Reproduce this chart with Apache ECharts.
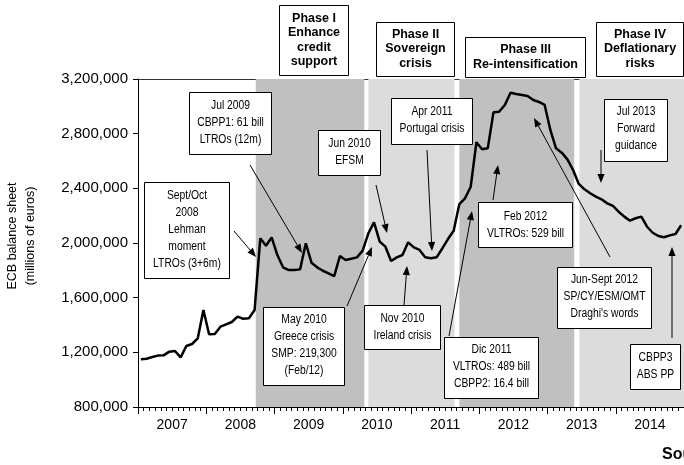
<!DOCTYPE html>
<html><head><meta charset="utf-8">
<script src="https://cdn.jsdelivr.net/npm/echarts@6/dist/echarts.min.js"></script>
<style>html,body{margin:0;padding:0;background:#fff}#c{width:684px;height:465px}</style>
</head><body><div id="c"></div>
<script>
// ---- data ----
const years = ['2007','2008','2009','2010','2011','2012','2013','2014'];
// ECB balance sheet, millions of euros, monthly from Jan 2007
const ecbBalance = [
  1149000,1153000,1166000,1176000,1178000,1205000,1210000,1163000,1246000,1261000,1302000,1510000,
  1332000,1334000,1388000,1405000,1422000,1461000,1446000,1449000,1510000,2034000,1980000,2041000,
  1912000,1822000,1802000,1802000,1807000,1998000,1856000,1822000,1797000,1778000,1758000,1905000,
  1876000,1885000,1895000,1944000,2071000,2151000,2010000,1973000,1868000,1895000,1912000,2005000,
  1968000,1949000,1895000,1888000,1895000,1960000,2029000,2090000,2285000,2327000,2412000,2737000,
  2686000,2693000,2956000,2961000,3010000,3100000,3090000,3083000,3076000,3046000,3032000,3010000,
  2827000,2693000,2661000,2612000,2534000,2432000,2393000,2364000,2339000,2320000,2290000,2271000,
  2229000,2193000,2163000,2181000,2193000,2119000,2075000,2051000,2042000,2056000,2066000,2130000
];
const yTicks = [800000,1200000,1600000,2000000,2400000,2800000,3200000];
// phases (month index from Jan 2007)
const phaseStart = [20.7, 40.5, 56.5, 77.6];
const phaseEnd   = [39.8, 55.65, 76.7, 96];
const phaseShade = ['#c0c0c0','#dcdcdc','#c0c0c0','#dcdcdc'];
const phaseTitles = [
  ['Phase I','Enhance','credit','support'],
  ['Phase II','Sovereign','crisis'],
  ['Phase III','Re-intensification'],
  ['Phase IV','Deflationary','risks']
];
const notes = [
  ['Jul 2009','CBPP1: 61 bill','LTROs (12m)'],
  ['Sept/Oct','2008','Lehman','moment','LTROs (3+6m)'],
  ['Jun 2010','EFSM'],
  ['Apr 2011','Portugal crisis'],
  ['Feb 2012','VLTROs: 529 bill'],
  ['Jun-Sept 2012','SP/CY/ESM/OMT',"Draghi's words"],
  ['Jul 2013','Forward','guidance'],
  ['CBPP3','ABS PP'],
  ['Nov 2010','Ireland crisis'],
  ['Dic 2011','VLTROs: 489 bill','CBPP2: 16.4 bill'],
  ['May 2010','Greece crisis','SMP: 219,300','(Feb/12)']
];
const yTitle = ['ECB balance sheet','(millions of euros)'];
const sourceText = 'Source: ECB';

// ---- layout (pixels) ----
const phaseBoxes = [[279,5,69,70,40],[376,22,78,54,49],[465,37,120,40,57],[596,22,87,54,49]];
const noteBoxes = [
  [189,92,82,62,123],[144,182,85,96,229.5],[318,130,62,45,152.5],[391,98,81,46,120],
  [478,202,94,45,225],[557,267,94,61,297],[604,99,63,62,129],[630,344,50,45,366],
  [364,305,76,44,327],[444,337,94,61,367],[263,307,81,78,345.5]
];
const arrows = [
  [250,165,302,253],[234,231,256,257],[376,185,387,233],[427,150,432,251],
  [493,200,498,165],[610,257,534,118],[601,150,601,183],[672,338,672,247],
  [404,305,407,266],[449,336,472,211],[347,306,372,247]
];

const SANS = "'Liberation Sans',Arial,sans-serif";

function box(b, lines, opts){
  const [x,y,w,h,cy] = b;
  return [
    {type:'rect', z:100, shape:{x:x+0.5,y:y+0.5,width:w,height:h}, style:{fill:'#fff',stroke:'#000',lineWidth:1}},
    {type:'text', z:101, x:x+w/2+0.5, y:cy, scaleX:opts.sx, scaleY:1,
      style:{text:lines.join('\n'), x:0, y:0, align:'center', verticalAlign:'middle',
      fontSize:opts.size, fontFamily:SANS, fontWeight:opts.weight, lineHeight:opts.lh, fill:'#000'}}
  ];
}
function arrow(a){
  const [x1,y1,x2,y2] = a;
  const dx=x2-x1, dy=y2-y1, L=Math.hypot(dx,dy), ux=dx/L, uy=dy/L;
  const hl=9, hw=3.6, bx=x2-ux*hl, by=y2-uy*hl;
  return [
    {type:'line', z:100, shape:{x1:x1,y1:y1,x2:bx,y2:by}, style:{stroke:'#000',lineWidth:1}},
    {type:'polygon', z:100, shape:{points:[[x2,y2],[bx-uy*hw,by+ux*hw],[bx+uy*hw,by-ux*hw]]}, style:{fill:'#000'}}
  ];
}

const graphics = [];
phaseBoxes.forEach((b,i)=>graphics.push(...box(b, phaseTitles[i], {size:12.5,weight:'bold',lh:14.5,sx:1})));
noteBoxes.forEach((b,i)=>graphics.push(...box(b, notes[i], {size:12,weight:'normal',lh:17,sx:0.86})));
arrows.forEach(a=>graphics.push(...arrow(a)));
graphics.push({type:'text', z:101, x:13, y:236, rotation:Math.PI/2,
  style:{text:yTitle[0], x:0, y:0, align:'center', verticalAlign:'middle', fontSize:12.5, fontFamily:SANS, fill:'#000'}});
graphics.push({type:'text', z:101, x:31, y:236, rotation:Math.PI/2,
  style:{text:yTitle[1], x:0, y:0, align:'center', verticalAlign:'middle', fontSize:12.5, fontFamily:SANS, fill:'#000'}});
graphics.push({type:'text', z:101, style:{text:sourceText, x:662, y:447, align:'left', verticalAlign:'top', fontSize:16, fontWeight:'bold', fontFamily:SANS, fill:'#000'}});

const chart = echarts.init(document.getElementById('c'), null, {renderer:'canvas'});
chart.setOption({
  animation:false,
  backgroundColor:'#fff',
  grid:{left:138, top:79, width:552, height:328, containLabel:false},
  xAxis:[
    {type:'value', min:0, max:96, interval:12, position:'bottom',
     axisLine:{show:true, onZero:false, lineStyle:{color:'#000', width:1}},
     axisTick:{show:true, length:7, lineStyle:{color:'#000'}},
     minorTick:{show:true, splitNumber:12, length:4, lineStyle:{color:'#000'}},
     axisLabel:{show:false}, splitLine:{show:false}},
    {type:'category', data:years, boundaryGap:true, position:'bottom', offset:0,
     axisLine:{show:false}, axisTick:{show:false}, splitLine:{show:false},
     axisLabel:{show:true, interval:0, margin:11, fontSize:14, fontFamily:SANS, color:'#000'}},
    {type:'value', min:0, max:96, position:'top',
     axisLine:{show:true, onZero:false, lineStyle:{color:'#333', width:1}},
     axisTick:{show:false}, axisLabel:{show:false}, splitLine:{show:false}}
  ],
  yAxis:{type:'value', min:yTicks[0], max:yTicks[yTicks.length-1], interval:yTicks[1]-yTicks[0],
    axisLine:{show:true, lineStyle:{color:'#000', width:1}},
    axisTick:{show:true, length:5, lineStyle:{color:'#000'}},
    splitLine:{show:false},
    axisLabel:{margin:10, fontSize:15, fontFamily:SANS, color:'#000',
      formatter:v=>v.toLocaleString('en-US')}},
  series:[{
    type:'line', xAxisIndex:0, yAxisIndex:0, z:5,
    data: ecbBalance.map((v,i)=>[i+0.5, v]),
    showSymbol:false, symbol:'none', smooth:false,
    lineStyle:{color:'#000', width:2.5},
    markArea:{silent:true, z:1,
      data: phaseStart.map((s,i)=>[{xAxis:s, itemStyle:{color:phaseShade[i]}},{xAxis:phaseEnd[i]}])}
  }],
  graphic: graphics
});
</script></body></html>
